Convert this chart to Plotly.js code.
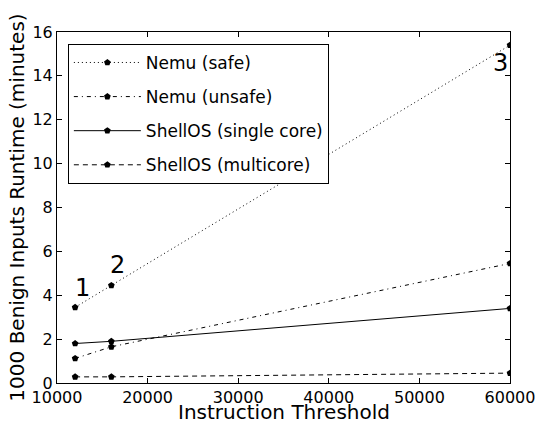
<!DOCTYPE html>
<html><head><meta charset="utf-8">
<script src="https://cdn.plot.ly/plotly-3.0.1.min.js"></script>
<style>body{margin:0;background:#fff}#chart{width:538px;height:421px}</style>
</head><body><div id="chart"></div>
<script>
const thresholds = [12000, 16000, 60000];
const nemuSafe = [3.45, 4.45, 15.4];
const nemuUnsafe = [1.12, 1.65, 5.45];
const shellSingle = [1.8, 1.9, 3.4];
const shellMulti = [0.28, 0.28, 0.45];
const seriesNames = ["Nemu (safe)", "Nemu (unsafe)", "ShellOS (single core)", "ShellOS (multicore)"];
const dashes = ["1px,3px", "4px,4px,1px,4px", "solid", "5px,4px"];
const labels = ["1", "2", "3"];
const labelX = [12800, 16700, 58900];
const labelY = [4.35, 5.4, 14.6];

const allY = [nemuSafe, nemuUnsafe, shellSingle, shellMulti];
const traces = allY.map((ys, i) => ({
  x: thresholds, y: ys, name: seriesNames[i], type: 'scatter', mode: 'lines+markers',
  legendgroup: 'g' + i,
  line: {color: '#000', width: 1, dash: dashes[i]},
  marker: {symbol: 'pentagon', size: 7, color: '#000'}
}));

const font = {family: 'DejaVu Sans', color: '#000'};
const layout = {
  width: 538, height: 421,
  margin: {l: 57, r: 28, t: 32, b: 38},
  paper_bgcolor: '#fff', plot_bgcolor: '#fff',
  font: font,
  showlegend: true,
  legend: {x: 0.024, y: 0.966, xanchor: 'left', yanchor: 'top',
    bordercolor: '#000', borderwidth: 1, bgcolor: '#fff', itemwidth: 67,
    font: {family: 'DejaVu Sans', size: 17, color: '#000'}, tracegroupgap: 9},
  xaxis: {range: [10000, 60000], tickvals: [10000, 20000, 30000, 40000, 50000, 60000],
    ticktext: ['10000', '20000', '30000', '40000', '50000', '60000'],
    ticks: 'inside', ticklen: 5, tickcolor: '#000', showline: true, linecolor: '#000', linewidth: 1,
    mirror: 'ticks', showgrid: false, zeroline: false,
    tickfont: {family: 'DejaVu Sans', size: 16, color: '#000'}},
  yaxis: {range: [0, 16], tickvals: [0, 2, 4, 6, 8, 10, 12, 14, 16],
    ticks: 'inside', ticklen: 5, tickcolor: '#000', showline: true, linecolor: '#000', linewidth: 1,
    mirror: 'ticks', showgrid: false, zeroline: false,
    tickfont: {family: 'DejaVu Sans', size: 16, color: '#000'},
    title: {text: '1000 Benign Inputs Runtime (minutes)', font: {family: 'DejaVu Sans', size: 20, color: '#000'}, standoff: 2}},
  annotations: labels.map((t, i) => ({x: labelX[i], y: labelY[i], text: t, showarrow: false,
    font: {family: 'DejaVu Sans', size: 24, color: '#000'}})).concat([
    {xref: 'paper', yref: 'paper', x: 0.5, y: -0.084, yanchor: 'middle', showarrow: false,
     text: 'Instruction Threshold', font: {family: 'DejaVu Sans', size: 20, color: '#000'}}])
};
Plotly.newPlot('chart', traces, layout, {displayModeBar: false, staticPlot: true});
</script></body></html>
